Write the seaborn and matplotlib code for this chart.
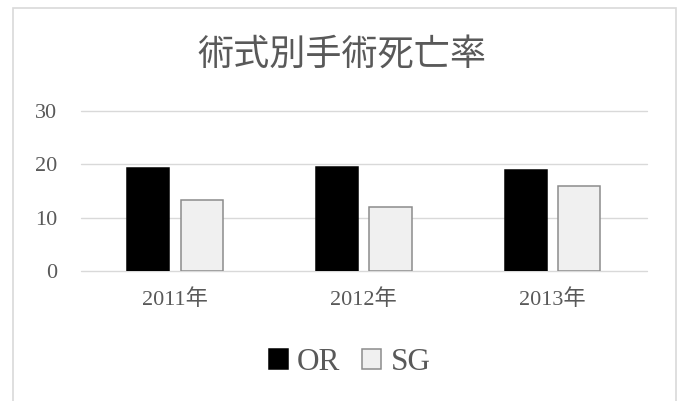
import matplotlib
matplotlib.use('Agg')
import matplotlib.pyplot as plt
import matplotlib.patches as mpatches
import pandas as pd
import seaborn as sns

years = ['2011年', '2012年', '2013年']
or_rate = [19.3, 19.5, 18.9]
sg_rate = [13.3, 11.9, 16.0]
series = ['OR', 'SG']
colors = ['#000000', '#f0f0f0']
edges = ['#000000', '#8c8c8c']


def make_df():
    rows = []
    for name, vals in zip(series, [or_rate, sg_rate]):
        for y, v in zip(years, vals):
            rows.append({'year': y, 'series': name, 'rate': v})
    return pd.DataFrame(rows)


def main():
    sns.set_style('white')
    plt.rcParams['font.family'] = ['Liberation Serif', 'Noto Sans CJK JP']
    df = make_df()

    fig = plt.figure(figsize=(6.83, 4.01), dpi=100)
    ax = fig.add_axes([0.118, 0.324, 0.829, 0.400])

    sns.barplot(data=df, x='year', y='rate', hue='series', palette=colors,
                width=0.567, gap=0.21, saturation=1, ax=ax, zorder=3)

    for cont, ec in zip(ax.containers, edges):
        for p in cont:
            p.set_edgecolor(ec)
            p.set_linewidth(1.1)

    ax.set_ylim(0, 30)
    ax.set_yticks([0, 10, 20, 30])
    ax.set_xlim(-0.5, 2.5)
    ax.grid(axis='y', color='#d9d9d9', linewidth=1.0, zorder=0)
    for gl in ax.get_ygridlines():
        gl.set_clip_on(False)
    ax.set_axisbelow(True)
    for s in ax.spines.values():
        s.set_visible(False)
    ax.set_xlabel('')
    ax.set_ylabel('')
    ax.tick_params(axis='y', length=0, pad=17, labelsize=16, labelcolor='#595959')
    ax.tick_params(axis='x', length=0, pad=13, labelsize=16, labelcolor='#595959')

    handles, labels = ax.get_legend_handles_labels()
    ax.get_legend().remove()
    for h, ec in zip(handles, edges):
        h.set_edgecolor(ec)
        h.set_linewidth(1.1)
    fig.legend(handles, labels, loc='center', bbox_to_anchor=(0.512, 0.097),
               ncol=2, frameon=False, fontsize=22.5, labelcolor='#595959',
               handlelength=0.6, handleheight=0.6, handletextpad=0.3,
               columnspacing=0.7)

    fig.text(0.5, 0.865, '術式別手術死亡率', ha='center', va='center',
             fontsize=26, color='#595959', family=['Noto Sans CJK JP'])

    border = mpatches.Rectangle((0.019, -0.2), 0.971, 1.18, transform=fig.transFigure,
                                fill=False, edgecolor='#d9d9d9', linewidth=1.2)
    fig.patches.append(border)

    fig.savefig('out.png', dpi=100)


if __name__ == '__main__':
    main()
